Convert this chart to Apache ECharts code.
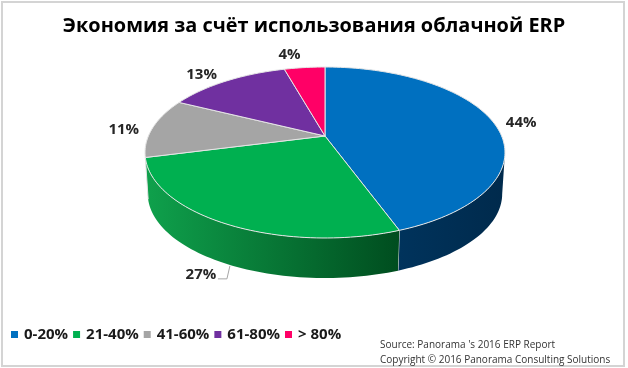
<!DOCTYPE html>
<html>
<head>
<meta charset="utf-8">
<style>
html, body { margin: 0; padding: 0; background: #fff; }
#chart { width: 628px; height: 368px; }
</style>
<script src="https://cdn.jsdelivr.net/npm/echarts@6/dist/echarts.min.js"></script>
</head>
<body>
<div id="chart"></div>
<script>
var titleText = 'Экономия за счёт использования облачной ERP';
var sourceText = "Source: Panorama 's 2016 ERP Report\nCopyright © 2016 Panorama Consulting Solutions";
var categories = ['0-20%', '21-40%', '41-60%', '61-80%', '> 80%'];
var values = [44.4, 26.6, 11.3, 13.3, 4.4];
var colors = ['#0070c0', '#00b050', '#a5a5a5', '#7030a0', '#ff0066'];

// side wall shading, left to right across the slice
var wallColors = {
	0: ['#002a4c', '#00335c'],
	1: ['#0fa14c', '#004d1f']
};
// where each % label sits relative to its slice rim
var labelNudge = [[28, 1], [-25, 51], [-29, 2], [-25, -6], [-15, -13]];

// perspective of the pie top: apex, radius, tilt
var cx = 325, cy = 136, radius = 176.6, squash = 82.3, persp = 0.193;
var depth = 42, bottomScale = 0.985;

var total = values.reduce(function(a, b) { return a + b; }, 0);

function project(deg, scale, drop) {
	var t = deg * Math.PI / 180;
	var u = Math.sin(t) * scale, v = -Math.cos(t) * scale;
	var d = 1 - persp * v;
	return [cx + radius * u / d, cy + squash * v / d + drop];
}

function arc(from, to, scale, drop) {
	var pts = [];
	var steps = Math.max(2, Math.ceil(Math.abs(to - from) / 1.5));
	for (var i = 0; i <= steps; i++) {
		pts.push(project(from + (to - from) * i / steps, scale, drop));
	}
	return pts;
}

// near side of the rim, between the two silhouette tangents
var nearFrom = Math.acos(-persp) * 180 / Math.PI;
var nearTo = 360 - nearFrom;

function startAngle(idx) {
	var sum = 0;
	for (var i = 0; i < idx; i++) sum += values[i];
	return sum / total * 360;
}

function renderSlice(idx, params, api) {
	var a0 = startAngle(idx);
	var a1 = a0 + api.value(0) / total * 360;
	var kids = [];

	var w0 = Math.max(a0, nearFrom), w1 = Math.min(a1, nearTo);
	if (w1 > w0 && wallColors[idx]) {
		var up = arc(w0, w1, 1, 0);
		var down = arc(w0, w1, bottomScale, depth).reverse();
		var xs = up.map(function(p) { return p[0]; });
		kids.push({
			type: 'polygon',
			shape: { points: up.concat(down) },
			style: {
				fill: new echarts.graphic.LinearGradient(
					Math.min.apply(null, xs), 0, Math.max.apply(null, xs), 0,
					[
						{ offset: 0, color: wallColors[idx][idx == 0 ? 1 : 0] },
						{ offset: 1, color: wallColors[idx][idx == 0 ? 0 : 1] }
					], true)
			}
		});
		// seam between neighbouring walls
		if (a1 < nearTo && a1 > nearFrom) {
			kids.push({
				type: 'line',
				shape: {
					x1: project(a1, 1, 0)[0], y1: project(a1, 1, 0)[1],
					x2: project(a1, bottomScale, depth)[0], y2: project(a1, bottomScale, depth)[1]
				},
				style: { stroke: '#e4e4e4', lineWidth: 1 }
			});
		}
	}

	kids.push({
		type: 'polygon',
		shape: { points: [[cx, cy]].concat(arc(a0, a1, 1, 0)) },
		style: { fill: colors[idx], stroke: '#e6e6e6', lineWidth: 1 }
	});

	var mid = project((a0 + a1) / 2, 1, 0);
	var lx = mid[0] + labelNudge[idx][0], ly = mid[1] + labelNudge[idx][1];
	kids.push({
		type: 'text',
		z2: 10,
		style: {
			x: lx, y: ly,
			text: Math.round(api.value(0)) + '%',
			align: 'center', verticalAlign: 'middle',
			fontFamily: 'Open Sans', fontWeight: 'bold', fontSize: 15,
			fill: '#262626'
		}
	});
	if (idx == 1) {
		// leader line for the label below the wall
		kids.push({
			type: 'polyline',
			shape: { points: [[lx + 17, ly + 4], [lx + 26, ly + 4], [lx + 29, ly - 9]] },
			style: { fill: 'none', stroke: '#a6a6a6', lineWidth: 1 }
		});
	}
	return { type: 'group', children: kids };
}

var myChart = echarts.init(document.getElementById('chart'));

var option = {
	animation: false,
	backgroundColor: '#fff',
	graphic: [{
		type: 'rect',
		silent: true,
		shape: { x: 2, y: 2, width: 622, height: 364 },
		style: { fill: 'none', stroke: '#d4d4d4', lineWidth: 2 }
	}],
	title: [{
		text: titleText,
		left: 'center',
		top: 11,
		textStyle: { fontFamily: 'Open Sans', fontWeight: 'bold', fontSize: 19.9, color: '#000' }
	}, {
		text: sourceText,
		left: 380,
		top: 338,
		padding: 0,
		textStyle: { fontFamily: 'Open Sans', fontWeight: 'normal', fontSize: 10, lineHeight: 15, color: '#333' }
	}],
	legend: {
		data: categories,
		left: 11,
		top: 327,
		padding: 0,
		icon: 'rect',
		itemWidth: 7,
		itemHeight: 7,
		itemGap: 5,
		textStyle: { fontFamily: 'Open Sans', fontWeight: 'bold', fontSize: 15, color: '#1a1a1a', padding: [0, 0, 0, 1] }
	},
	series: categories.map(function(name, idx) {
		return {
			type: 'custom',
			name: name,
			coordinateSystem: 'none',
			silent: true,
			itemStyle: { color: colors[idx] },
			renderItem: function(params, api) { return renderSlice(idx, params, api); },
			data: [values[idx]]
		};
	})
};

myChart.setOption(option);
</script>
</body>
</html>
